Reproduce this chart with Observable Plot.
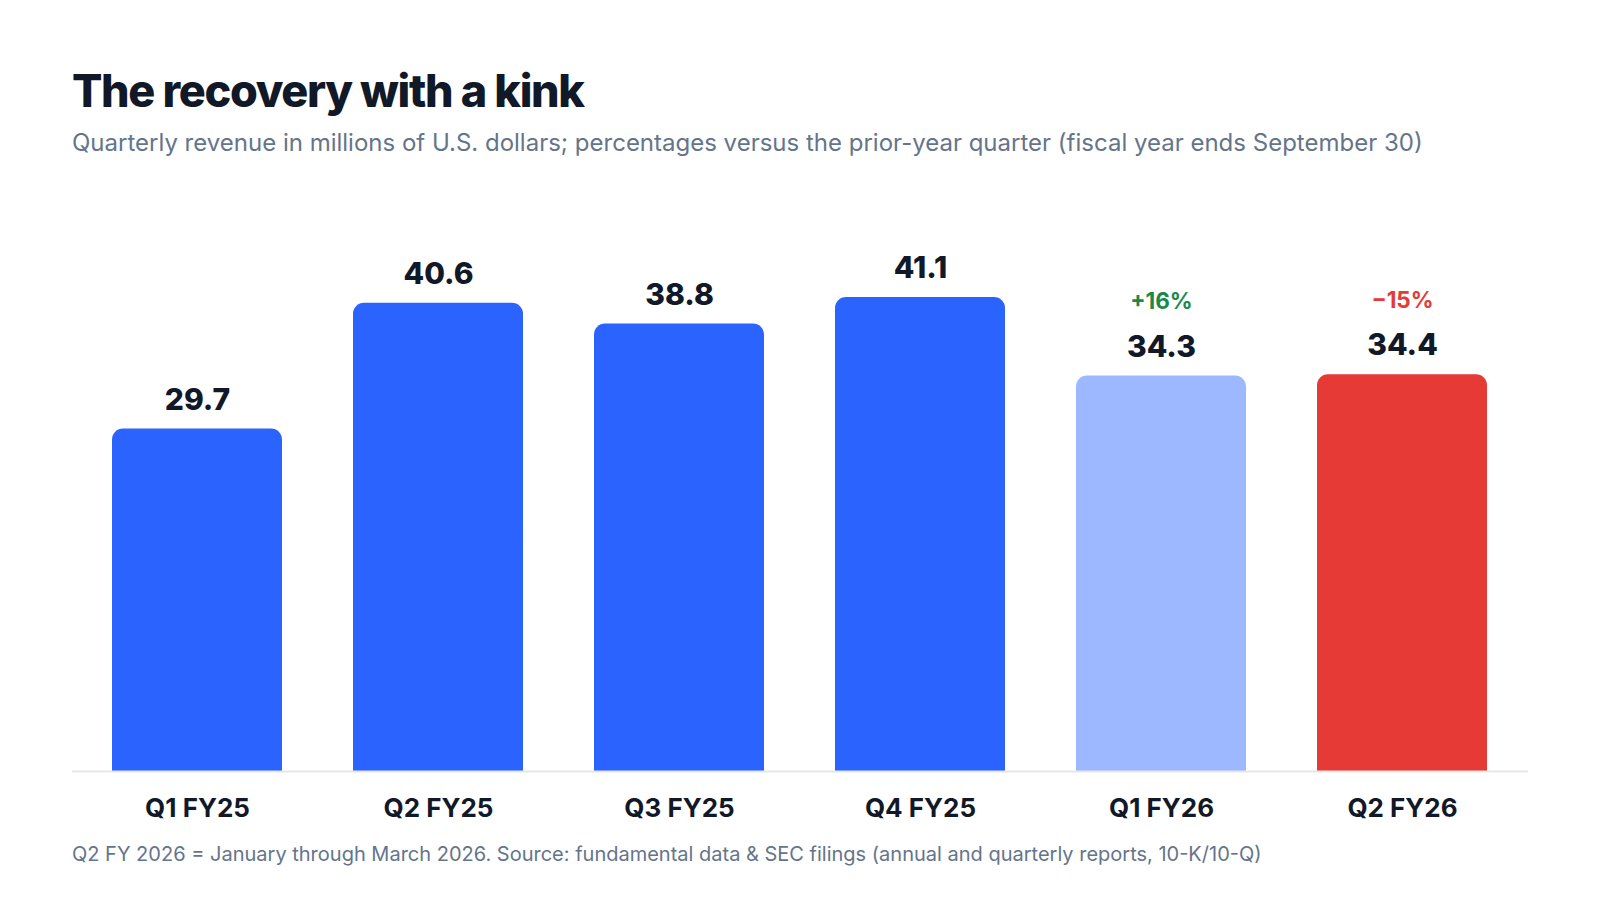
<!DOCTYPE html>
<html>
<head>
<meta charset="utf-8">
<script src="https://cdn.jsdelivr.net/npm/d3@7"></script>
<script src="https://cdn.jsdelivr.net/npm/@observablehq/plot@0.6"></script>
<style>
  html, body { margin: 0; padding: 0; background: #fff; }
  body { width: 1600px; height: 900px; position: relative; font-family: Inter, "Noto Sans", sans-serif; overflow: hidden; }
  #title { position: absolute; left: 72px; top: 65px; font-size: 45px; font-weight: 800; letter-spacing: -1.35px; color: #111827; line-height: 52px; margin: 0; }
  #subtitle { position: absolute; left: 72px; top: 129px; font-size: 24px; font-weight: 400; color: #64748b; line-height: 28px; margin: 0; }
  #chart { position: absolute; left: 0; top: 180px; }
  #caption { position: absolute; left: 72px; top: 842px; font-size: 20px; color: #64748b; line-height: 24px; margin: 0; }
</style>
</head>
<body>
<div id="title">The recovery with a kink</div>
<div id="subtitle">Quarterly revenue in millions of U.S. dollars; percentages versus the prior-year quarter (fiscal year ends September 30)</div>
<div id="chart"></div>
<div id="caption">Q2 FY 2026 = January through March 2026. Source: fundamental data &amp; SEC filings (annual and quarterly reports, 10-K/10-Q)</div>
<script>
const quarters = ["Q1 FY25", "Q2 FY25", "Q3 FY25", "Q4 FY25", "Q1 FY26", "Q2 FY26"];
const revenue = [29.7, 40.6, 38.8, 41.1, 34.3, 34.4];
const yoyLabels = ["", "", "", "", "+16%", "\u221215%"];
const barColors = ["#2b63ff", "#2b63ff", "#2b63ff", "#2b63ff", "#9db8ff", "#e53a35"];
const yoyColors = ["#1a8a4a", "#1a8a4a", "#1a8a4a", "#1a8a4a", "#1a8a4a", "#e53a35"];

const data = quarters.map((q, i) => ({
  q, v: revenue[i], label: revenue[i].toFixed(1), yoy: yoyLabels[i], fill: barColors[i], yoyFill: yoyColors[i]
}));
const yoyData = data.filter(d => d.yoy !== "");

const chart = Plot.plot({
  width: 1600,
  height: 660,
  marginLeft: 72,
  marginRight: 72,
  marginTop: 72,
  marginBottom: 69,
  style: { fontFamily: "Inter, 'Noto Sans', sans-serif", background: "#fff" },
  x: { domain: quarters, padding: 0.293, paddingOuter: 0.165, label: null },
  y: { domain: [0, 45], axis: null },
  marks: [
    Plot.barY(data, { x: "q", y: "v", fill: d => d.fill, rx: 11 }),
    Plot.barY(data, { x: "q", y1: 0, y2: d => d.v / 2, fill: d => d.fill }),
    Plot.ruleY([0], { stroke: "#e5e7eb", strokeWidth: 2 }),
    Plot.text(data, { x: "q", y: "v", text: "label", dy: -29, fontSize: 30, fontWeight: 800, fill: "#111827" }),
    Plot.text(yoyData, { x: "q", y: "v", text: "yoy", dy: -74, fontSize: 22.5, fontWeight: 700, fill: d => d.yoyFill }),
    Plot.axisX({ tickSize: 0, tickPadding: 27, fontSize: 26, fontWeight: 700, fill: "#111827", label: null })
  ]
});
document.getElementById("chart").appendChild(chart);
</script>
</body>
</html>
